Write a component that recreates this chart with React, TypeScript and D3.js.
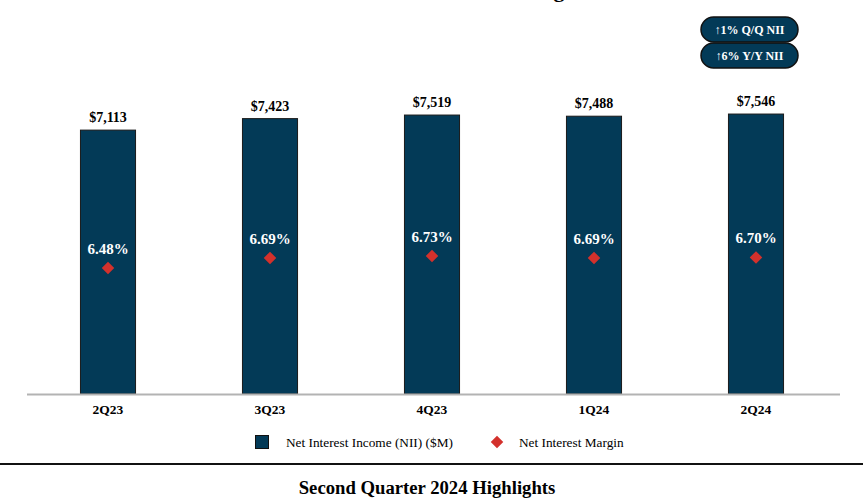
import { useEffect, useRef } from 'react';
import * as d3 from 'd3';

const quarters = ['2Q23', '3Q23', '4Q23', '1Q24', '2Q24'];
const nii = [7113, 7423, 7519, 7488, 7546];
const nim = [6.48, 6.69, 6.73, 6.69, 6.7];
const badges = ['\u21911% Q/Q NII', '\u21916% Y/Y NII'];
const legendItems = ['Net Interest Income (NII) ($M)', 'Net Interest Margin'];

const W = 863;
const H = 504;
const FONT = '"Liberation Serif", "Times New Roman", serif';
const NAVY = '#033a57';
const RED = '#d3312c';

export default function App() {
  const svgRef = useRef<SVGSVGElement>(null);

  useEffect(() => {
    if (!svgRef.current) return;
    const svg = d3.select(svgRef.current);
    svg.selectAll('*').remove();
    svg.style('font-family', FONT);

    const x = d3.scaleBand<string>().domain(quarters).range([27, 837]).paddingInner(0.66).paddingOuter(0.33);
    const y = d3.scaleLinear().domain([0, 10620]).range([394, 0]);
    const yM = d3.scaleLinear().domain([6.48, 6.73]).range([268, 256]);

    // title, scrolled off the top in the source
    svg.append('text')
      .attr('x', 431).attr('y', -3)
      .attr('text-anchor', 'middle')
      .attr('font-weight', 'bold').attr('font-size', 22)
      .text('Net Interest Income and Margin');

    // bars
    svg.selectAll('rect.bar')
      .data(nii)
      .join('rect')
      .attr('class', 'bar')
      .attr('x', (_, i) => x(quarters[i])!)
      .attr('y', (d) => y(d))
      .attr('width', x.bandwidth())
      .attr('height', (d) => y(0) - y(d))
      .attr('fill', NAVY)
      .attr('stroke', '#1a1a1a')
      .attr('stroke-width', 1);

    // value labels
    svg.selectAll('text.val')
      .data(nii)
      .join('text')
      .attr('class', 'val')
      .attr('x', (_, i) => x(quarters[i])! + x.bandwidth() / 2)
      .attr('y', (d) => y(d) - 8)
      .attr('text-anchor', 'middle')
      .attr('font-weight', 'bold').attr('font-size', 14)
      .text((d) => '$' + d3.format(',')(d));

    // axis line
    svg.append('line')
      .attr('x1', 27).attr('x2', 840)
      .attr('y1', 394.5).attr('y2', 394.5)
      .attr('stroke', '#b3b3b3').attr('stroke-width', 2);

    // category labels
    svg.selectAll('text.cat')
      .data(quarters)
      .join('text')
      .attr('class', 'cat')
      .attr('x', (d) => x(d)! + x.bandwidth() / 2)
      .attr('y', 414)
      .attr('text-anchor', 'middle')
      .attr('font-weight', 'bold').attr('font-size', 13.5)
      .text((d) => d);

    // margin diamonds
    const diamond = d3.symbol().type(d3.symbolDiamond2).size(100);
    svg.selectAll('path.nim')
      .data(nim)
      .join('path')
      .attr('class', 'nim')
      .attr('d', diamond)
      .attr('transform', (d, i) => `translate(${x(quarters[i])! + x.bandwidth() / 2},${yM(d)})`)
      .attr('fill', RED);

    svg.selectAll('text.nimlbl')
      .data(nim)
      .join('text')
      .attr('class', 'nimlbl')
      .attr('x', (_, i) => x(quarters[i])! + x.bandwidth() / 2)
      .attr('y', (d) => yM(d) - 14)
      .attr('text-anchor', 'middle')
      .attr('fill', '#fff')
      .attr('font-weight', 'bold').attr('font-size', 15)
      .text((d) => d.toFixed(2) + '%');

    // badges
    const badge = svg.selectAll('g.badge')
      .data(badges)
      .join('g')
      .attr('class', 'badge')
      .attr('transform', (_, i) => `translate(701,${17 + i * 26})`);
    badge.append('rect')
      .attr('width', 97).attr('height', 25)
      .attr('rx', 12.5)
      .attr('fill', NAVY)
      .attr('stroke', '#111').attr('stroke-width', 1.5);
    badge.append('text')
      .attr('x', 48.5).attr('y', 16.5)
      .attr('text-anchor', 'middle')
      .attr('fill', '#fff')
      .attr('font-weight', 'bold').attr('font-size', 12)
      .text((d) => d);

    // legend
    svg.append('rect')
      .attr('x', 255.5).attr('y', 435.5)
      .attr('width', 13).attr('height', 13)
      .attr('fill', NAVY).attr('stroke', '#111');
    svg.append('text')
      .attr('x', 286).attr('y', 447)
      .attr('font-size', 13.3)
      .text(legendItems[0]);
    svg.append('path')
      .attr('d', diamond)
      .attr('transform', 'translate(497,442)')
      .attr('fill', RED);
    svg.append('text')
      .attr('x', 519).attr('y', 447)
      .attr('font-size', 13.3)
      .text(legendItems[1]);

    // separator and footer
    svg.append('line')
      .attr('x1', 0).attr('x2', W)
      .attr('y1', 464).attr('y2', 464)
      .attr('stroke', '#111').attr('stroke-width', 2);
    svg.append('text')
      .attr('x', 427).attr('y', 494)
      .attr('text-anchor', 'middle')
      .attr('font-weight', 'bold').attr('font-size', 18.7)
      .text('Second Quarter 2024 Highlights');
  }, []);

  return (
    <svg
      ref={svgRef}
      width={W}
      height={H}
      style={{ position: 'absolute', left: 0, top: 0, background: '#fff' }}
    />
  );
}
